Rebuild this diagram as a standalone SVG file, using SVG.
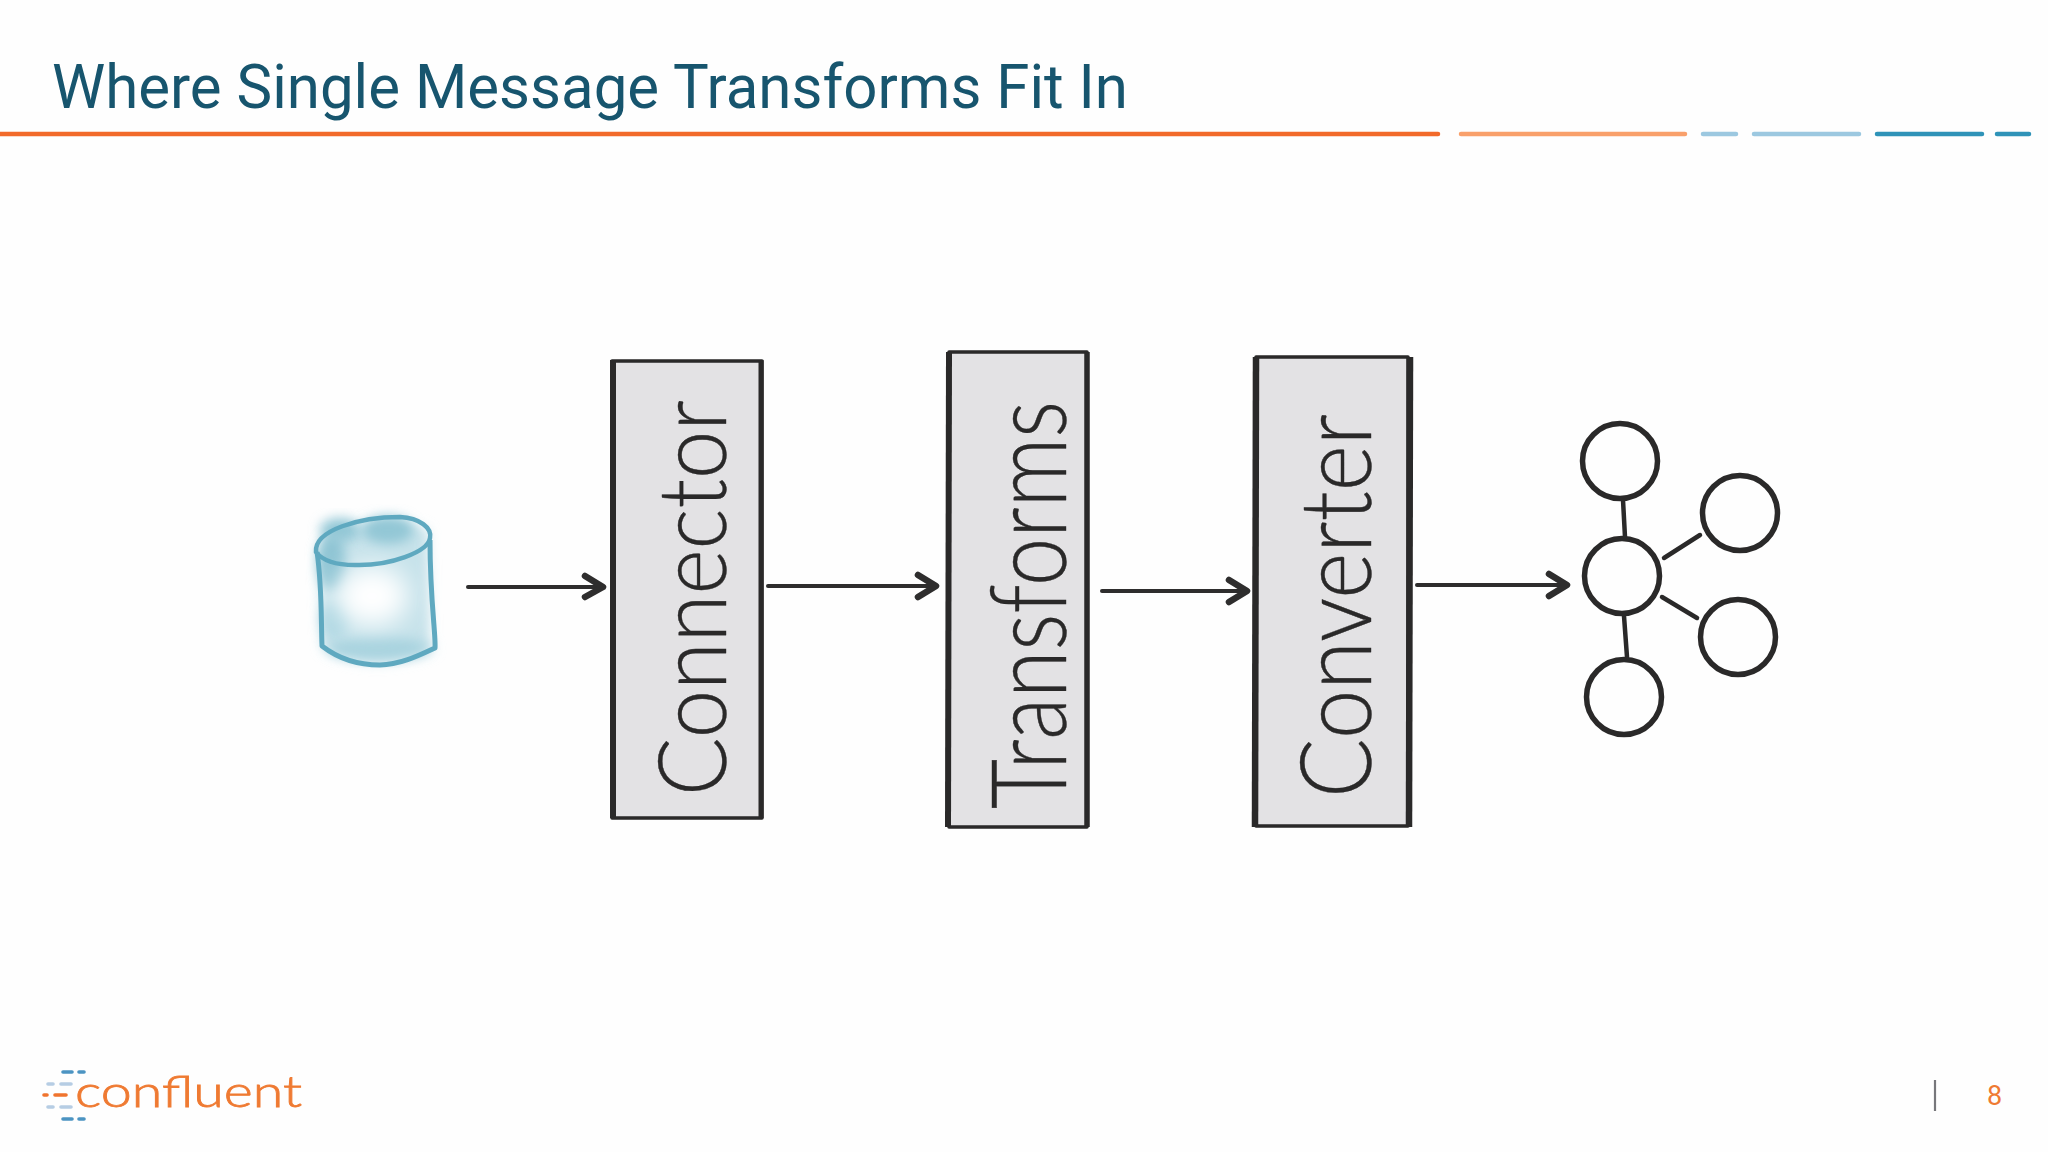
<svg xmlns="http://www.w3.org/2000/svg" width="2048" height="1152" viewBox="0 0 2048 1152">
<style>
.rule{fill:none;stroke-width:4.5;stroke-linecap:round}
.box{fill:#e3e2e4;stroke:#2a2929;stroke-linejoin:round}
.hand{font-family:"Lato","Liberation Sans",sans-serif;font-weight:300;fill:#2a2929;stroke:#2a2929;stroke-width:0.4}
.conn{fill:none;stroke:#2e2d2d;stroke-width:4;stroke-linecap:round;stroke-linejoin:round}
.head{fill:none;stroke:#2e2d2d;stroke-width:6.5;stroke-linecap:round;stroke-linejoin:round}
.node{fill:#fefefe;stroke:#2a2929;stroke-width:5.5}
.link{fill:none;stroke:#2a2929;stroke-width:4.5;stroke-linecap:round}
.dash{fill:none;stroke-width:3.6;stroke-linecap:round}
</style>
<defs>
<filter id="blur" x="-40%" y="-40%" width="180%" height="180%"><feGaussianBlur stdDeviation="6"/></filter>
<filter id="blur2" x="-50%" y="-50%" width="200%" height="200%"><feGaussianBlur stdDeviation="13"/></filter>
</defs>
<rect width="2048" height="1152" fill="#fefefe"/>
<g id="header">
<text x="52" y="108" font-family="Roboto,sans-serif" font-size="61" fill="#17556e" textLength="1076" lengthAdjust="spacingAndGlyphs">Where Single Message Transforms Fit In</text>
<line class="rule" x1="0" y1="134" x2="1438" y2="134" stroke="#f26a2a"/>
<line class="rule" x1="1461" y1="134" x2="1685" y2="134" stroke="#f9a06b"/>
<line class="rule" x1="1703" y1="134" x2="1736" y2="134" stroke="#9cc8e0"/>
<line class="rule" x1="1754" y1="134" x2="1859" y2="134" stroke="#9cc8e0"/>
<line class="rule" x1="1877" y1="134" x2="1982" y2="134" stroke="#2f93b8"/>
<line class="rule" x1="1997" y1="134" x2="2029" y2="134" stroke="#2f93b8"/>
</g>
<g id="database">
<path d="M318 548C330 520 400 515 428 530L430 640L435 650C410 665 350 670 322 648Z" fill="#c6e2ea" filter="url(#blur)"/>
<ellipse cx="340" cy="530" rx="20" ry="12" fill="#93c7d6" filter="url(#blur)"/>
<ellipse cx="388" cy="530" rx="26" ry="14" fill="#93c7d6" filter="url(#blur)"/>
<ellipse cx="332" cy="562" rx="14" ry="28" fill="#8fc5d4" filter="url(#blur)"/>
<ellipse cx="335" cy="620" rx="14" ry="18" fill="#b0d8e3" filter="url(#blur)"/>
<ellipse cx="378" cy="648" rx="50" ry="11" fill="#a8d3df" filter="url(#blur)"/>
<ellipse cx="372" cy="596" rx="36" ry="30" fill="#ffffff" filter="url(#blur2)"/>
<path d="M316 552C314 530 360 517 400 517C420 518 432 528 430 538C428 552 390 566 355 565C335 565 322 560 316 552Z" fill="none" stroke="#5fa9c0" stroke-width="4.5"/>
<path d="M317 552C322 585 321 620 322 646C340 660 360 665 380 665C400 665 420 655 435 648C436 635 430 600 430 540" fill="none" stroke="#5fa9c0" stroke-width="5" stroke-linejoin="round"/>
</g>
<g id="connector">
<rect class="box" x="612" y="361" width="150" height="457" stroke-width="3.5"/>
<line x1="613" y1="360" x2="613" y2="818" stroke="#2a2929" stroke-width="6"/>
<line x1="761" y1="360" x2="761" y2="818" stroke="#2a2929" stroke-width="5"/>
<text class="hand" transform="translate(726 796) rotate(-90)" font-size="94" textLength="396" lengthAdjust="spacingAndGlyphs">Connector</text>
</g>
<g id="transforms">
<rect class="box" x="949" y="352" width="138" height="475" stroke-width="3.5"/>
<line x1="949" y1="352" x2="948" y2="827" stroke="#2a2929" stroke-width="6"/>
<line x1="1087" y1="352" x2="1087" y2="827" stroke="#2a2929" stroke-width="5.5"/>
<text class="hand" transform="translate(1066 809) rotate(-90)" font-size="104" textLength="408" lengthAdjust="spacingAndGlyphs">Transforms</text>
</g>
<g id="converter">
<rect class="box" x="1256" y="357" width="152" height="469" stroke-width="3.5"/>
<line x1="1256" y1="357" x2="1255" y2="827" stroke="#2a2929" stroke-width="6.5"/>
<line x1="1410" y1="357" x2="1409" y2="827" stroke="#2a2929" stroke-width="6.5"/>
<text class="hand" transform="translate(1371 798) rotate(-90)" font-size="98" textLength="384" lengthAdjust="spacingAndGlyphs">Converter</text>
</g>
<g id="connectors">
<path class="conn" d="M468 587L602 587"/><path class="head" d="M585 576L603 587L585 597"/>
<path class="conn" d="M768 586L936 586"/><path class="head" d="M918 575L936 586L918 597"/>
<path class="conn" d="M1102 591L1246 591"/><path class="head" d="M1229 580L1247 591L1229 602"/>
<path class="conn" d="M1417 585L1566 585"/><path class="head" d="M1549 574L1567 585L1549 596"/>
</g>
<g id="topic">
<g id="partition-links">
<line class="link" x1="1623" y1="500" x2="1625" y2="537"/>
<line class="link" x1="1664" y1="558" x2="1700" y2="535"/>
<line class="link" x1="1662" y1="597" x2="1697" y2="618"/>
<line class="link" x1="1624" y1="616" x2="1627" y2="657"/>
</g>
<circle class="node" cx="1620" cy="461" r="37.5"/>
<circle class="node" cx="1622" cy="576" r="37.5"/>
<circle class="node" cx="1740" cy="513" r="37.5"/>
<circle class="node" cx="1738" cy="637" r="37.5"/>
<circle class="node" cx="1624" cy="697" r="37.5"/>
</g>
<g id="logo">
<line class="dash" x1="63" y1="1072" x2="72" y2="1072" stroke="#4c94c2"/><line class="dash" x1="79" y1="1072" x2="84" y2="1072" stroke="#4c94c2"/>
<line class="dash" x1="48" y1="1084" x2="53" y2="1084" stroke="#b6cde4"/><line class="dash" x1="61" y1="1084" x2="71" y2="1084" stroke="#b6cde4"/>
<line class="dash" x1="44" y1="1095" x2="47" y2="1095" stroke="#f0742e"/><line class="dash" x1="55" y1="1095" x2="66" y2="1095" stroke="#f0742e"/>
<line class="dash" x1="48" y1="1107" x2="53" y2="1107" stroke="#b6cde4"/><line class="dash" x1="61" y1="1107" x2="71" y2="1107" stroke="#b6cde4"/>
<line class="dash" x1="63" y1="1119" x2="72" y2="1119" stroke="#4c94c2"/><line class="dash" x1="79" y1="1119" x2="84" y2="1119" stroke="#4c94c2"/>
<text x="75" y="1107" font-family="Lato,sans-serif" font-weight="300" font-size="44" fill="#ef7a32" stroke="#ef7a32" stroke-width="0.8" textLength="227" lengthAdjust="spacingAndGlyphs">confluent</text>
</g>
<g id="footer">
<line x1="1935" y1="1080" x2="1935" y2="1111" stroke="#77777b" stroke-width="2.2"/>
<text x="1987" y="1105" font-family="Roboto,sans-serif" font-size="27" fill="#ef7a32">8</text>
</g>
</svg>
